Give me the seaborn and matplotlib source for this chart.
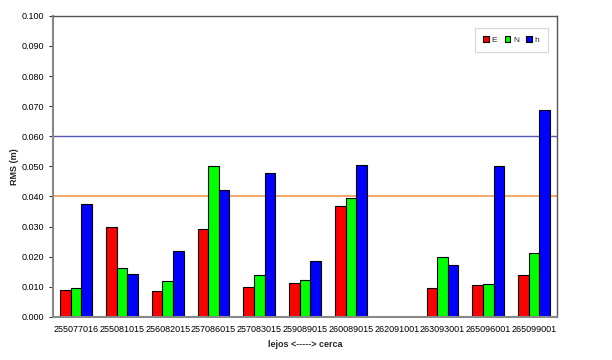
import matplotlib
matplotlib.use("Agg")
import numpy as np
import pandas as pd
import matplotlib.pyplot as plt
import seaborn as sns
from matplotlib.ticker import FormatStrFormatter

# estaciones ordenadas de lejos a cerca
estaciones = ["255077016", "255081015", "256082015", "257086015", "257083015",
              "259089015", "260089015", "262091001", "263093001", "265096001",
              "265099001"]
rms_E = [0.0090, 0.0300, 0.0085, 0.0293, 0.0100, 0.0112, 0.0367, np.nan, 0.0095, 0.0105, 0.0140]
rms_N = [0.0095, 0.0161, 0.0120, 0.0500, 0.0140, 0.0122, 0.0395, np.nan, 0.0198, 0.0110, 0.0212]
rms_h = [0.0375, 0.0142, 0.0220, 0.0420, 0.0477, 0.0185, 0.0503, np.nan, 0.0173, 0.0500, 0.0688]
limite_h = 0.060
limite_EN = 0.040

df = pd.DataFrame({"estacion": estaciones, "E": rms_E, "N": rms_N, "h": rms_h})
df_long = df.melt(id_vars="estacion", var_name="comp", value_name="rms").dropna()

sns.set_style("white")
plt.rcParams['font.family'] = ['Liberation Sans', 'DejaVu Sans']

fig = plt.figure(figsize=(6.12, 3.6), dpi=100)
ax = fig.add_axes([0.087, 0.12, 0.823, 0.836])

# lineas de referencia
ax.axhline(limite_h, color="#5555bb", lw=1.0, zorder=1)
ax.axhline(limite_EN, color="#f5a05a", lw=1.3, zorder=1)

sns.barplot(data=df_long, x="estacion", y="rms", hue="comp", order=estaciones,
            hue_order=["E", "N", "h"], palette=["#ff0000", "#00ff00", "#0000ff"],
            width=0.69, edgecolor="black", linewidth=0.8, saturation=1, ax=ax, zorder=2)

ax.set_ylim(0, 0.100)
ax.set_yticks(np.arange(0, 0.101, 0.010))
ax.yaxis.set_major_formatter(FormatStrFormatter('%.3f'))
ax.set_xlim(-0.5, len(estaciones) - 0.5)
ax.tick_params(axis='both', labelsize=6.5, length=3, colors='#333333')
ax.tick_params(axis='x', length=0, pad=6)
ax.tick_params(axis='y', left=True, direction='out')
for lbl in ax.get_xticklabels() + ax.get_yticklabels():
    lbl.set_color('black')

ax.set_ylabel("RMS (m)", fontsize=6.5, fontweight="bold", labelpad=2)
ax.set_xlabel("lejos <-----> cerca", fontsize=6.5, fontweight="bold", labelpad=4)

for s in ['left', 'bottom']:
    ax.spines[s].set_color('#888888')
    ax.spines[s].set_linewidth(1.5)
for s in ['top', 'right']:
    ax.spines[s].set_color('#555555')
    ax.spines[s].set_linewidth(1.0)

leg = ax.legend(loc="upper right", bbox_to_anchor=(0.99, 0.975), ncol=3, fontsize=6,
                frameon=True, handlelength=0.7, handleheight=0.7, handletextpad=0.3,
                columnspacing=0.9, borderpad=1.0, fancybox=False)
leg.get_frame().set_edgecolor('#cccccc')
leg.get_frame().set_linewidth(0.8)

fig.savefig("out.png", dpi=100)
